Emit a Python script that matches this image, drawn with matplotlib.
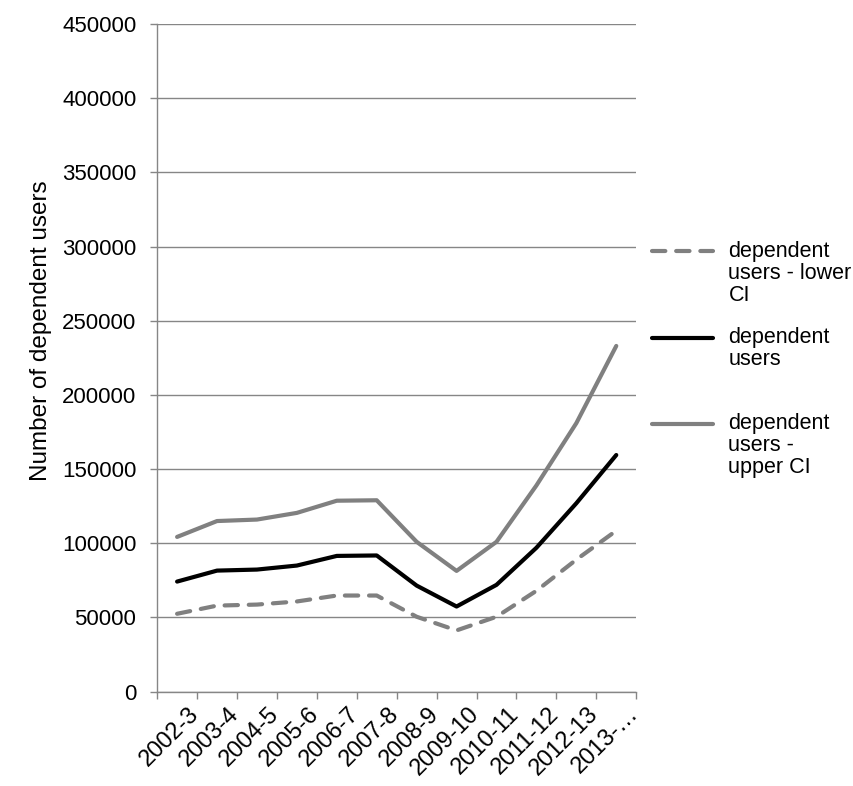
import matplotlib
matplotlib.use('Agg')
from matplotlib import pyplot as plt
from matplotlib import transforms
from matplotlib.legend_handler import HandlerLine2D

plt.rcParams['font.family'] = ['Liberation Sans', 'DejaVu Sans']

years = ['2002-3', '2003-4', '2004-5', '2005-6', '2006-7', '2007-8',
         '2008-9', '2009-10', '2010-11', '2011-12', '2012-13', '2013-…']

lower_ci = [52500, 58000, 58700, 60800, 64800, 64800,
            50500, 41300, 50500, 68000, 89000, 108500]
users = [74200, 81600, 82300, 85000, 91500, 91800,
         71500, 57400, 72000, 97000, 127000, 159500]
upper_ci = [104300, 115000, 116000, 120500, 128700, 129000,
            101000, 81400, 101000, 139000, 181000, 233000]

# every legend label padded to three lines so the entries get equal room
labels = ['dependent\nusers - lower\nCI',
          'dependent\nusers\n ',
          'dependent\nusers -\nupper CI']

GRID = '#868686'
GREY = '#808080'
FS = 15.5
LINESPACING = 1.05


class FirstLineHandler(HandlerLine2D):
    """Puts the legend key level with the first line of its label."""
    def __init__(self, shift, **kw):
        super().__init__(**kw)
        self.shift = shift

    def create_artists(self, legend, orig_handle, xdescent, ydescent,
                       width, height, fontsize, trans):
        return super().create_artists(legend, orig_handle, xdescent,
                                      ydescent - 2 * self.shift * fontsize,
                                      width, height, fontsize, trans)


fig = plt.figure(figsize=(8.54, 7.86), dpi=100)
ax = fig.add_axes([0.184, 0.12, 0.561, 0.8495])

x = list(range(len(years)))
l1, = ax.plot(x, lower_ci, color=GREY, lw=3, ls=(0, (3.2, 2.6)),
              dash_capstyle='round', label=labels[0])
l2, = ax.plot(x, users, color='black', lw=3, solid_capstyle='round',
              label=labels[1])
l3, = ax.plot(x, upper_ci, color=GREY, lw=3, solid_capstyle='round',
              label=labels[2])

ax.set_xlim(-0.5, len(years) - 0.5)
ax.set_ylim(0, 450000)
ax.set_yticks(range(0, 450001, 50000))
ax.tick_params(axis='y', labelsize=16, length=5, color=GRID, width=1, pad=10)
ax.yaxis.grid(True, color=GRID, lw=1)
ax.set_axisbelow(True)

# category ticks sit between points, labels sit under the points
ax.set_xticks([i - 0.5 for i in range(len(years) + 1)])
ax.set_xticklabels([])
ax.set_xticks(x, minor=True)
ax.set_xticklabels(years, minor=True, rotation=45, ha='right',
                   rotation_mode='anchor', fontsize=17)
ax.tick_params(axis='x', which='major', length=5, color=GRID, width=1)
ax.tick_params(axis='x', which='minor', length=0, pad=8)
nudge = transforms.ScaledTranslation(11 / 100, 0, fig.dpi_scale_trans)
for lab in ax.get_xticklabels(minor=True):
    lab.set_transform(lab.get_transform() + nudge)

for side in ['top', 'right']:
    ax.spines[side].set_visible(False)
for side in ['left', 'bottom']:
    ax.spines[side].set_color(GRID)
    ax.spines[side].set_linewidth(1)

ax.set_ylabel('Number of dependent users', fontsize=17.5)
ax.yaxis.set_label_coords(-0.22, 0.54)

shift = 0.99 * LINESPACING
leg = ax.legend(handles=[l1, l2, l3], loc='upper left',
                bbox_to_anchor=(652 / 854, 1 - 241 / 786),
                bbox_transform=fig.transFigure, frameon=False,
                fontsize=FS, handlelength=2.85, handletextpad=0.7,
                labelspacing=1.0, borderpad=0, borderaxespad=0,
                handler_map={h: FirstLineHandler(shift) for h in [l1, l2, l3]})
for t in leg.get_texts():
    t.set_linespacing(LINESPACING)

fig.savefig('out.png', dpi=100)
